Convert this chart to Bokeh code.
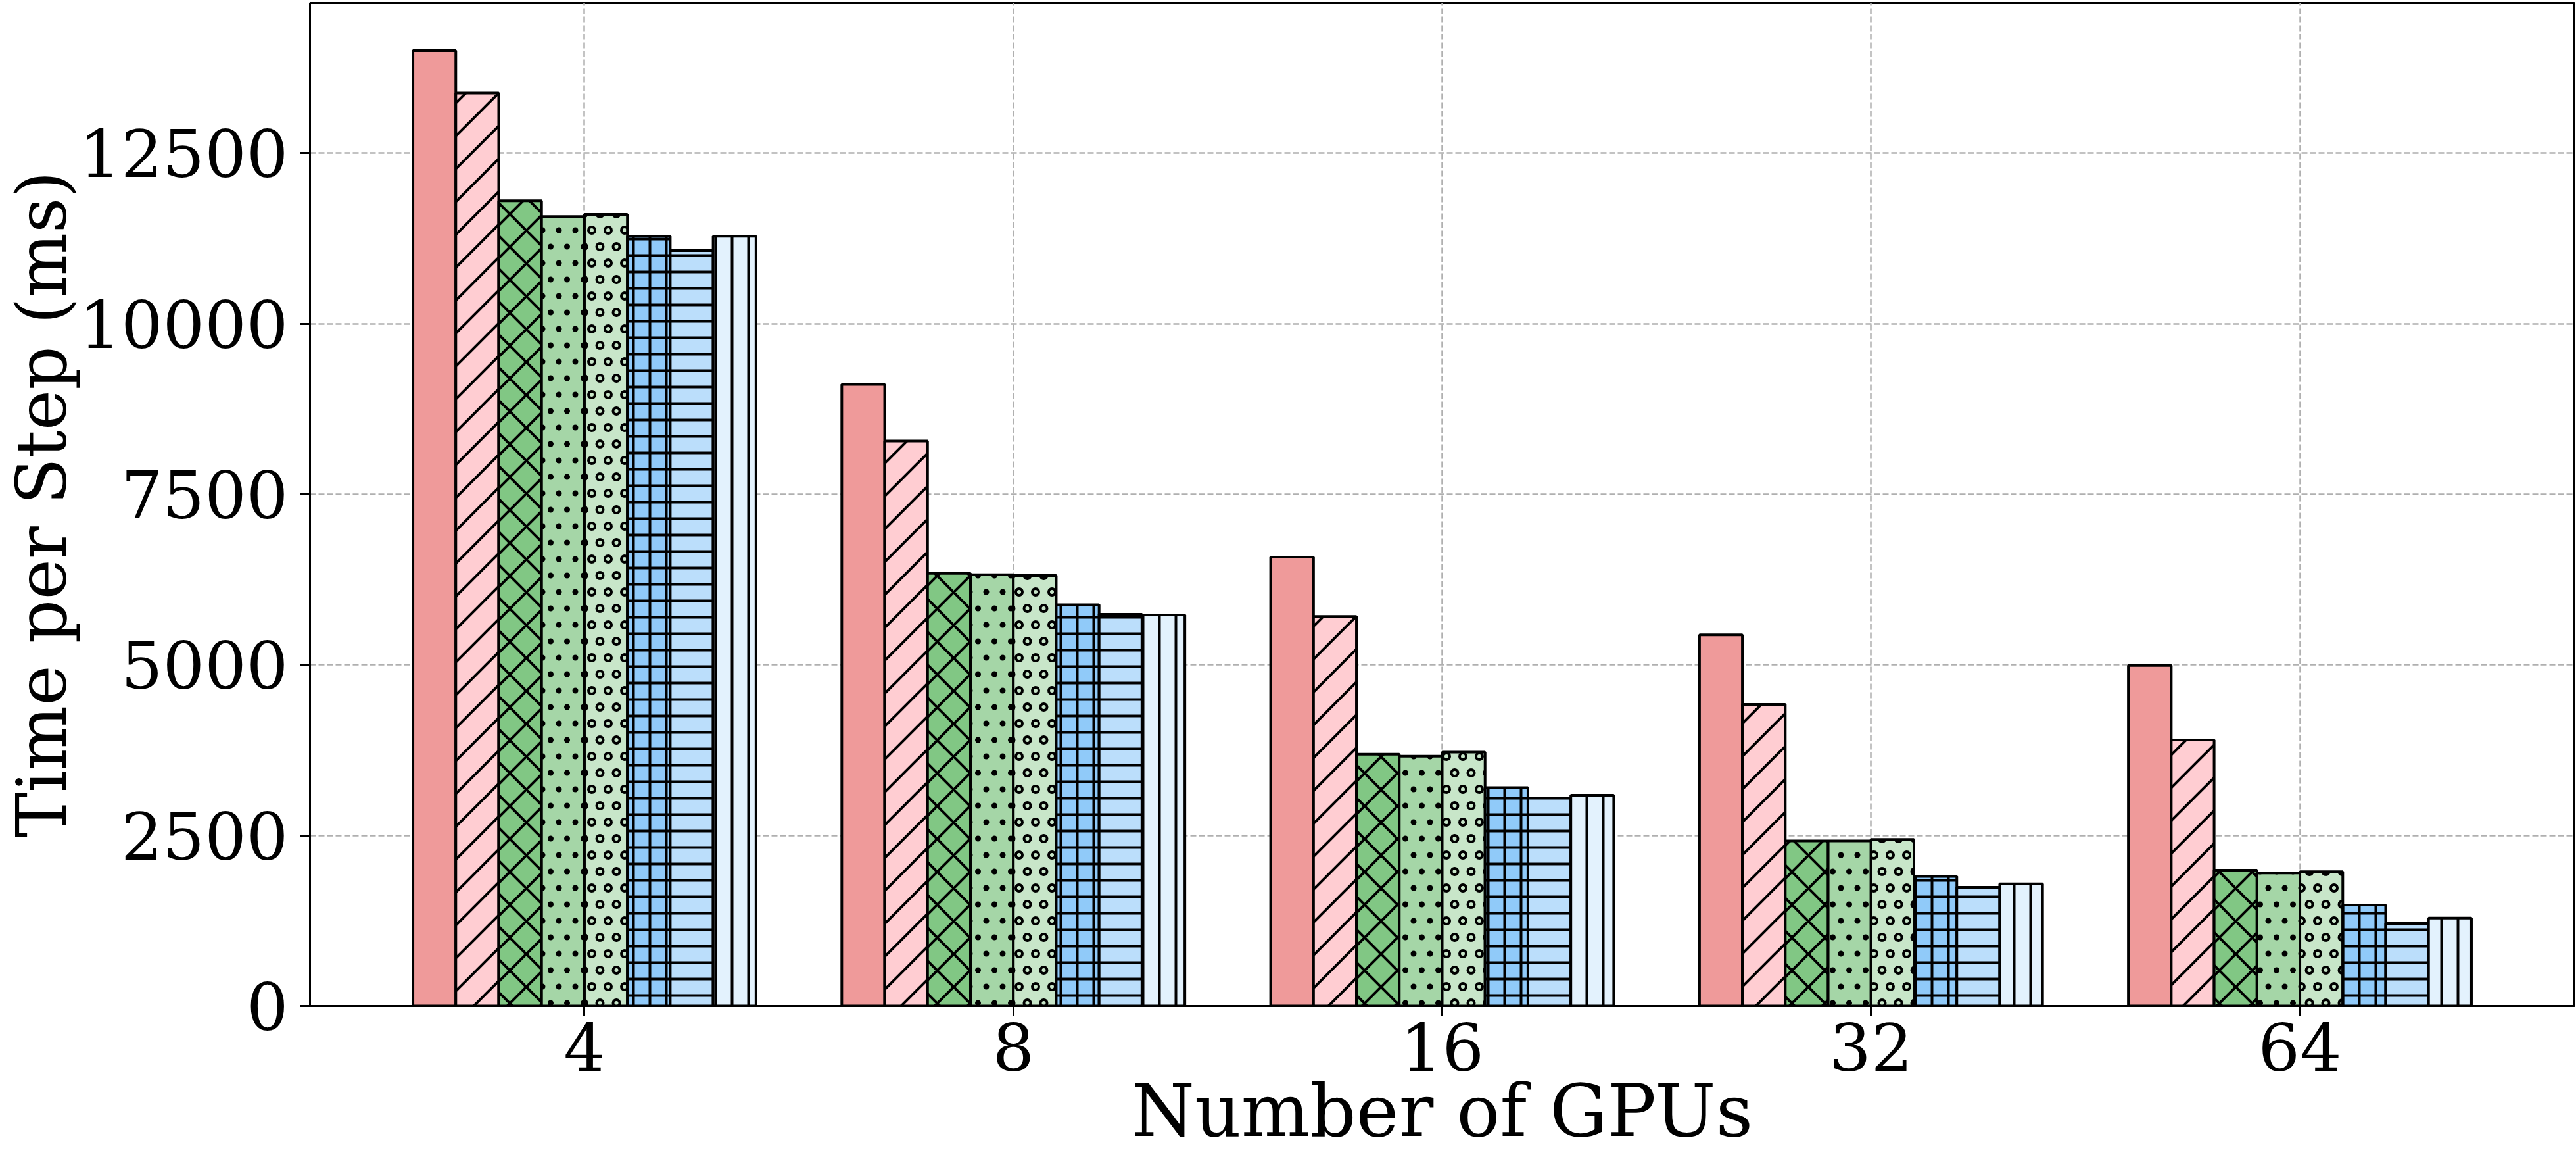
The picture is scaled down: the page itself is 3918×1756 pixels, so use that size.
import base64

from bokeh.embed import file_html
from bokeh.models import FixedTicker, ImageURLTexture, Range1d
from bokeh.plotting import figure
from bokeh.resources import INLINE

# GPU counts on the x axis
gpu_counts = ["4", "8", "16", "32", "64"]

# Time per step (ms), one list per bar series, in GPU-count order
series_1 = [14000, 9110, 6580, 5440, 4990]
series_2 = [13380, 8280, 5710, 4420, 3900]
series_3 = [11800, 6340, 3690, 2420, 1990]
series_4 = [11570, 6320, 3660, 2420, 1950]
series_5 = [11600, 6310, 3720, 2440, 1970]
series_6 = [11280, 5880, 3200, 1900, 1480]
series_7 = [11070, 5740, 3050, 1740, 1210]
series_8 = [11280, 5730, 3090, 1790, 1290]

y_ticks = [0, 2500, 5000, 7500, 10000, 12500]

all_series = [series_1, series_2, series_3, series_4,
              series_5, series_6, series_7, series_8]

# ---- styling -------------------------------------------------------------
FONT = "DejaVu Serif"
fills = ["#EF9A9A", "#FFCDD2", "#81C784", "#A5D6A7",
         "#C8E6C9", "#90CAF9", "#BBDEFB", "#E3F2FD"]


def svg_texture(body):
    svg = ("<svg xmlns='http://www.w3.org/2000/svg' width='50' height='50'>"
           + body + "</svg>")
    url = "data:image/svg+xml;base64," + base64.b64encode(svg.encode()).decode()
    return ImageURLTexture(url=url, repetition="repeat")


# 45-degree single diagonal hatch
diag_tex = svg_texture("<path d='M-6,6 L6,-6 M-6,56 L56,-6 M44,56 L56,44' "
                       "stroke='black' stroke-width='4' fill='none'/>")

# staggered grid of small dots / rings
_pts = [(0, 0), (25, 0), (50, 0), (12.5, 25), (37.5, 25), (0, 50), (25, 50), (50, 50)]
dot_tex = svg_texture("".join(
    f"<circle cx='{x}' cy='{y}' r='4.5' fill='black'/>" for x, y in _pts))
ring_tex = svg_texture("".join(
    f"<circle cx='{x}' cy='{y}' r='5' fill='none' stroke='black' stroke-width='4'/>"
    for x, y in _pts))

hatches = [None, "/", "x", ".", "o", "+", "-", "|"]
hatch_scales = [50, 50, 50, 50, 50, 25, 25, 25]
extras = {"/": diag_tex, ".": dot_tex, "o": ring_tex}

# ---- layout (pixels) -----------------------------------------------------
W, H = 3918, 1756
LEFT, RIGHT, TOP, BOTTOM = 469, 3, 4, 227
X0, X1 = -0.64, 4.64
Y0, Y1 = 0, 14700

p = figure(width=W, height=H,
           x_range=Range1d(X0, X1), y_range=Range1d(Y0, Y1),
           output_backend="svg", toolbar_location=None,
           min_border_left=LEFT, min_border_right=RIGHT,
           min_border_top=TOP, min_border_bottom=BOTTOM)
p.background_fill_color = "white"
p.border_fill_color = "white"
p.outline_line_color = "black"
p.outline_line_width = 3

bar_w = 0.1
n = len(all_series)
for j, vals in enumerate(all_series):
    xs = [i + (j - (n - 1) / 2) * bar_w for i in range(len(gpu_counts))]
    kw = dict(x=xs, top=vals, bottom=0, width=bar_w,
              fill_color=fills[j], line_color="black", line_width=4)
    if hatches[j] is not None:
        kw.update(hatch_pattern=hatches[j], hatch_color="black",
                  hatch_weight=4, hatch_scale=hatch_scales[j])
        if hatches[j] in extras:
            kw["hatch_extra"] = {hatches[j]: extras[hatches[j]]}
    p.vbar(**kw)

# ---- axes & grid ---------------------------------------------------------
p.xaxis.ticker = FixedTicker(ticks=list(range(len(gpu_counts))))
p.xaxis.major_label_overrides = {i: g for i, g in enumerate(gpu_counts)}
p.yaxis.ticker = FixedTicker(ticks=y_ticks)

p.xaxis.axis_label = "Number of GPUs"
p.yaxis.axis_label = "Time per Step (ms)"

for ax in (p.xaxis[0], p.yaxis[0]):
    ax.axis_line_color = "black"
    ax.axis_line_width = 3
    ax.major_tick_line_color = "black"
    ax.major_tick_line_width = 3
    ax.major_tick_in = 0
    ax.major_tick_out = 15
    ax.minor_tick_line_color = None
    ax.major_label_text_font = FONT
    ax.major_label_text_font_size = "100px"
    ax.major_label_text_color = "black"
    ax.axis_label_text_font = FONT
    ax.axis_label_text_font_style = "normal"
    ax.axis_label_text_color = "black"
p.xaxis.axis_label_text_font_size = "110px"
p.yaxis.axis_label_text_font_size = "104px"
p.xaxis.major_label_standoff = 10
p.yaxis.major_label_standoff = 18
p.xaxis.axis_label_standoff = -6
p.yaxis.axis_label_standoff = -8

for g in (p.xgrid[0], p.ygrid[0]):
    g.grid_line_color = "#b0b0b0"
    g.grid_line_width = 2.5
    g.grid_line_dash = "9 4"

open("out.html", "w").write(file_html(p, INLINE))
